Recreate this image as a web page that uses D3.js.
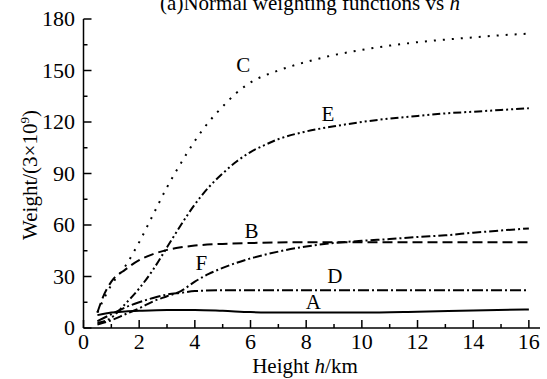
<!DOCTYPE html>
<html>
<head>
<meta charset="utf-8">
<script src="https://cdn.jsdelivr.net/npm/d3@7"></script>
<style>
  body { margin: 0; background: #fff; }
</style>
</head>
<body>
<div id="chart"></div>
<script>
// heights (km) and weights
const hA = [0.5, 1, 1.5, 2, 3, 4, 5, 6, 7, 8, 10, 12, 14, 16];
const wA = [7.5, 9, 9.6, 10, 10.5, 10.5, 10, 9.3, 9, 9, 9, 9.5, 10.2, 10.8];

const hB = [0.5, 0.7, 1, 1.5, 2, 2.5, 3, 3.5, 4, 5, 6, 8, 12, 16];
const wB = [9, 18, 27, 34, 39.5, 43, 45.5, 47, 48, 49, 49.5, 50, 50, 50];

const hC = [0.5, 0.7, 1, 1.5, 2, 2.5, 3, 3.5, 4, 4.5, 5, 5.5, 6, 7, 8, 9, 10, 11, 12, 13, 14, 15, 16];
const wC = [9, 16, 25, 36, 50, 66, 82, 96, 109, 120, 129, 137, 143, 150, 155, 159, 162, 164.5, 166.5, 168, 169.3, 170.5, 171.5];

const hD = [0.5, 1, 1.5, 2, 2.5, 3, 3.5, 4, 5, 6, 10, 16];
const wD = [4, 8, 12, 15, 17.5, 19.5, 20.5, 21.5, 22, 22, 22, 22];

const hE = [0.5, 1, 1.5, 2, 2.5, 3, 3.5, 4, 4.5, 5, 5.5, 6, 6.5, 7, 8, 9, 10, 11, 12, 13, 14, 15, 16];
const wE = [3, 6, 14, 23, 34, 47, 60, 72, 82, 90, 97, 102.5, 106.5, 110, 114.5, 117.5, 120, 122, 123.5, 125, 126, 127, 128];

const hF = [0.5, 1, 1.5, 2, 2.5, 3, 3.5, 4, 4.5, 5, 5.5, 6, 7, 8, 9, 10, 11, 12, 13, 14, 15, 16];
const wF = [2, 4.5, 8, 11.5, 15.5, 18.5, 21.5, 27, 31.5, 35, 38, 40.5, 44.5, 47.5, 49.5, 50.8, 51.8, 53, 54, 55.5, 56.8, 58];

const curveNames = ["A", "B", "C", "D", "E", "F"];
// label anchor points (h, W)
const labelH = [8.26, 6.04, 5.74, 9.03, 8.78, 4.23];
const labelW = [11, 52.4, 149, 26.2, 120.6, 33.8];

const xTicks = [0, 2, 4, 6, 8, 10, 12, 14, 16];
const yTicks = [0, 30, 60, 90, 120, 150, 180];

const width = 547, height = 379;
const serif = "'Liberation Serif', 'Times New Roman', 'DejaVu Serif', serif";

const svg = d3.select("#chart").append("svg")
  .attr("width", width)
  .attr("height", height)
  .attr("font-family", serif)
  .style("background-color", "#fff");

const xScale = d3.scaleLinear().domain([0, 16.4]).range([83.5, 540]);
const yScale = d3.scaleLinear().domain([0, 180]).range([328, 19]);

//Curves ==========
const series = [
  { h: hA, w: wA, dash: null },
  { h: hB, w: wB, dash: "10,5" },
  { h: hC, w: wC, dash: "2,7" },
  { h: hD, w: wD, dash: "11,3,2,3" },
  { h: hE, w: wE, dash: "8,3,2,3,2,3" },
  { h: hF, w: wF, dash: "9,3,2,3" },
];

const line = d3.line()
  .x(d => xScale(d[0]))
  .y(d => yScale(d[1]))
  .curve(d3.curveMonotoneX);

svg.append("g").selectAll("path")
  .data(series)
  .join("path")
  .attr("d", s => line(d3.zip(s.h, s.w)))
  .attr("fill", "none")
  .attr("stroke", "#000")
  .attr("stroke-width", 2)
  .attr("stroke-dasharray", s => s.dash);

//Axes ==========
const axisG = svg.append("g").attr("stroke", "#000").attr("stroke-width", 1.5);

axisG.append("line")
  .attr("x1", xScale(0)).attr("x2", xScale(16.4))
  .attr("y1", yScale(0)).attr("y2", yScale(0));
axisG.append("line")
  .attr("x1", xScale(0)).attr("x2", xScale(0))
  .attr("y1", yScale(0)).attr("y2", yScale(180));

// x ticks (inward)
axisG.selectAll(".xt")
  .data(d3.range(0, 17, 1))
  .join("line")
  .attr("x1", d => xScale(d)).attr("x2", d => xScale(d))
  .attr("y1", yScale(0))
  .attr("y2", d => yScale(0) - (d % 2 === 0 ? 8 : 4));

// y ticks (inward)
axisG.selectAll(".yt")
  .data(d3.range(0, 181, 15))
  .join("line")
  .attr("y1", d => yScale(d)).attr("y2", d => yScale(d))
  .attr("x1", xScale(0))
  .attr("x2", d => xScale(0) + (d % 30 === 0 ? 8 : 4));

svg.append("g").selectAll("text")
  .data(xTicks)
  .join("text")
  .attr("x", d => xScale(d))
  .attr("y", 349)
  .attr("text-anchor", "middle")
  .style("font-size", "22px")
  .text(d => d);

svg.append("g").selectAll("text")
  .data(yTicks)
  .join("text")
  .attr("x", 75)
  .attr("y", d => yScale(d) + 7)
  .attr("text-anchor", "end")
  .style("font-size", "22px")
  .text(d => d);

//Curve labels ==========
svg.append("g").selectAll("text")
  .data(curveNames)
  .join("text")
  .attr("x", (d, i) => xScale(labelH[i]))
  .attr("y", (d, i) => yScale(labelW[i]))
  .attr("text-anchor", "middle")
  .style("font-size", "21px")
  .text(d => d);

//Titles ==========
const title = svg.append("text")
  .attr("x", 310)
  .attr("y", 10)
  .attr("text-anchor", "middle")
  .style("font-size", "21px");
title.append("tspan").text("(a)Normal weighting functions vs ");
title.append("tspan").style("font-style", "italic").text("h");

const xLabel = svg.append("text")
  .attr("x", 305)
  .attr("y", 373)
  .attr("text-anchor", "middle")
  .style("font-size", "21px");
xLabel.append("tspan").text("Height ");
xLabel.append("tspan").style("font-style", "italic").text("h");
xLabel.append("tspan").text("/km");

const yLabel = svg.append("text")
  .attr("transform", "translate(37,175) rotate(-90)")
  .attr("text-anchor", "middle")
  .style("font-size", "21px");
yLabel.append("tspan").text("Weight/(3×10");
yLabel.append("tspan").attr("dy", -8).style("font-size", "13px").text("9");
yLabel.append("tspan").attr("dy", 8).text(")");
</script>
</body>
</html>
